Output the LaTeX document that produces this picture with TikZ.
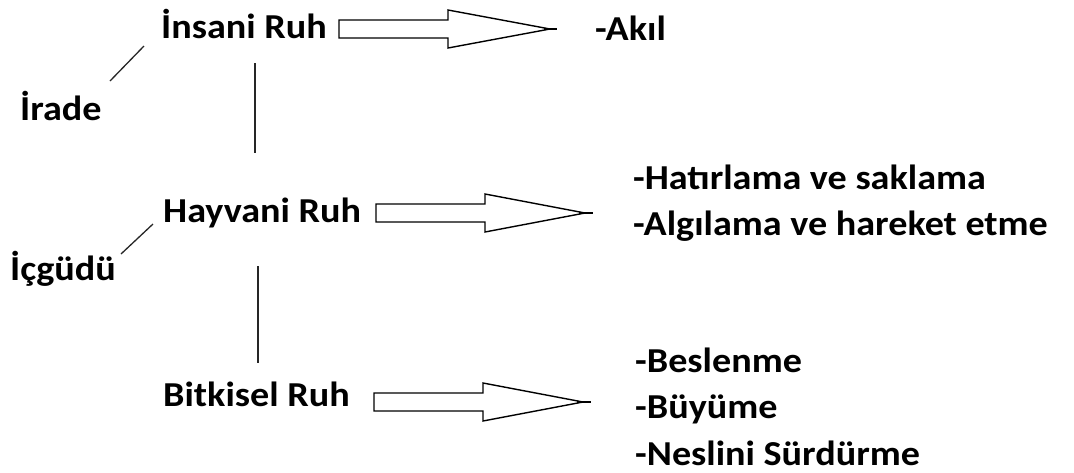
\documentclass[tikz,border=0pt]{standalone}
\usepackage{fontspec}
\setmainfont{Carlito}
\newcommand{\wide}[1]{\scalebox{1.09}[1]{#1}}
\begin{document}
\begin{tikzpicture}[x=1pt,y=-1pt,
  lbl/.style={anchor=base west,inner sep=0pt,font=\bfseries\fontsize{35}{42}\selectfont},
  link/.style={draw=black!85,line width=1.3pt},
  blockarrow/.style={draw=black,line width=1.4pt,fill=white,line join=miter}]
\useasboundingbox (0,0) rectangle (1074,472);

% labels
\node[lbl] (insani) at (161,38) {\wide{İnsani Ruh}};
\node[lbl] (akil) at (595,40) {\wide{-Akıl}};
\node[lbl] (irade) at (20,120) {\wide{İrade}};
\node[lbl] (hayvani) at (163,222) {\wide{Hayvani Ruh}};
\node[lbl] (icgudu) at (10,280) {\wide{İçgüdü}};
\node[lbl] (hatir) at (633,189) {\wide{-Hatırlama ve saklama}};
\node[lbl] (algi) at (633,235) {\wide{-Algılama ve hareket etme}};
\node[lbl] (bitki) at (163,406) {\wide{Bitkisel Ruh}};
\node[lbl] (besl) at (635,372) {\wide{-Beslenme}};
\node[lbl] (buyu) at (635,418) {\wide{-Büyüme}};
\node[lbl] (nesl) at (635,465) {\wide{-Neslini Sürdürme}};

% connector end points
\coordinate (ir1) at (110,81);  \coordinate (ir2) at (144,46);
\coordinate (ic1) at (121,254); \coordinate (ic2) at (153,224);
\coordinate (v1a) at (255,63);  \coordinate (v1b) at (255,153);
\coordinate (v2a) at (258,266); \coordinate (v2b) at (258,363);

\draw[link] (ir1) -- (ir2);
\draw[link] (ic1) -- (ic2);
\draw[link] (v1a) -- (v1b);
\draw[link] (v2a) -- (v2b);

% block arrows: tail x, neck x, tip x, end x, centre y
\newcommand{\blockarr}[5]{%
  \draw[blockarrow] (#1,#5-9) -- (#2,#5-9) -- (#2,#5-19) -- (#3,#5) -- (#2,#5+19)
     -- (#2,#5+9) -- (#1,#5+9) -- cycle;
  \draw[line width=2.6pt] (#3-6,#5) -- (#4,#5);}
\blockarr{339}{448}{550}{557}{29}
\blockarr{376}{485}{585}{593}{213}
\blockarr{374}{483}{583}{591}{402}
\end{tikzpicture}
\end{document}
